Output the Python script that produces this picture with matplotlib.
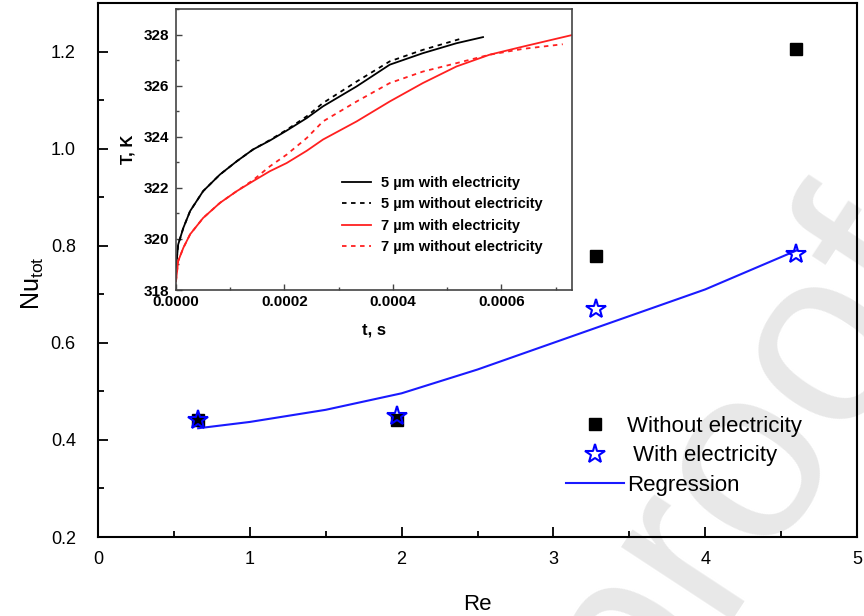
import numpy as np
import matplotlib
matplotlib.use("Agg")
import matplotlib.pyplot as plt
from matplotlib.ticker import MultipleLocator, FormatStrFormatter

plt.rcParams['font.family'] = ['Liberation Sans', 'DejaVu Sans']
plt.rcParams['mathtext.default'] = 'regular'

# main plot data
re_vals = [0.66, 1.97, 3.28, 4.60]
nu_without = [0.44, 0.44, 0.778, 1.206]
nu_with = [0.44, 0.449, 0.669, 0.782]
re_fit = [0.66, 1.0, 1.5, 2.0, 2.5, 3.0, 3.5, 4.0, 4.6]
nu_fit = [0.424, 0.437, 0.462, 0.496, 0.545, 0.600, 0.655, 0.710, 0.790]

# inset data (temperature vs time)
t_5_with = [0, 4e-6, 1.35e-5, 2.6e-5, 5.0e-5, 8.1e-5, 1.12e-4, 1.42e-4, 1.73e-4, 2.04e-4,
            2.41e-4, 2.71e-4, 3.33e-4, 3.94e-4, 4.55e-4, 5.17e-4, 5.66e-4]
T_5_with = [318.87, 319.78, 320.43, 321.09, 321.87, 322.52, 323.04, 323.5, 323.85, 324.24,
            324.73, 325.19, 325.97, 326.82, 327.27, 327.66, 327.9]
t_5_without = [0, 4e-6, 1.35e-5, 2.6e-5, 5.0e-5, 8.1e-5, 1.12e-4, 1.42e-4, 1.73e-4, 2.04e-4,
               2.41e-4, 2.71e-4, 3.33e-4, 3.94e-4, 4.55e-4, 5.29e-4]
T_5_without = [318.87, 319.78, 320.43, 321.09, 321.87, 322.52, 323.04, 323.5, 323.87, 324.27,
               324.8, 325.32, 326.16, 326.95, 327.4, 327.86]
t_7_with = [0, 4e-6, 1.35e-5, 2.6e-5, 5.0e-5, 8.1e-5, 1.12e-4, 1.42e-4, 1.73e-4, 2.04e-4,
            2.41e-4, 2.71e-4, 3.33e-4, 3.94e-4, 4.55e-4, 5.17e-4, 5.78e-4, 6.40e-4, 7.3e-4]
T_7_with = [318.35, 319.13, 319.65, 320.18, 320.82, 321.41, 321.87, 322.26, 322.65, 322.97,
            323.45, 323.89, 324.6, 325.38, 326.1, 326.75, 327.21, 327.53, 327.98]
t_7_without = [0, 4e-6, 1.35e-5, 2.6e-5, 5.0e-5, 8.1e-5, 1.12e-4, 1.42e-4, 1.73e-4, 2.04e-4,
               2.41e-4, 2.71e-4, 3.33e-4, 3.94e-4, 4.55e-4, 5.17e-4, 5.78e-4, 6.40e-4, 7.13e-4]
T_7_without = [318.35, 319.13, 319.65, 320.18, 320.82, 321.41, 321.87, 322.3, 322.84, 323.3,
               323.95, 324.6, 325.38, 326.1, 326.55, 326.88, 327.21, 327.44, 327.62]

fig = plt.figure(figsize=(8.64, 6.16), dpi=100)

# faint watermark behind everything
fig.text(960 / 864, 343 / 616, "Journal Pre-proof", fontsize=180, color='#e8e8e8',
         rotation=56.7, rotation_mode='anchor', ha='right', va='baseline', zorder=-1)

ax = fig.add_axes([98 / 864, 79 / 616, 759 / 864, 534 / 616])
ax.patch.set_alpha(0)
ax.plot(re_vals, nu_without, 's', color='black', markersize=8, label='Without electricity', zorder=3)
ax.plot(re_vals, nu_with, '*', color='blue', markersize=15, fillstyle='none',
        markeredgewidth=1.5, label=' With electricity', zorder=4)
ax.plot(re_fit, nu_fit, '-', color='#1a1aff', linewidth=1.5, label='Regression', zorder=2)

ax.set_xlim(0, 5)
ax.set_ylim(0.2, 1.3)
ax.xaxis.set_major_locator(MultipleLocator(1))
ax.xaxis.set_minor_locator(MultipleLocator(0.5))
ax.yaxis.set_major_locator(MultipleLocator(0.2))
ax.yaxis.set_minor_locator(MultipleLocator(0.1))
ax.yaxis.set_major_formatter(FormatStrFormatter('%.1f'))
ax.tick_params(which='both', direction='in', labelsize=13, width=1.3)
ax.tick_params(which='major', length=7)
ax.tick_params(which='minor', length=4)
ax.tick_params(axis='x', pad=10)
ax.tick_params(axis='y', pad=16)
for s in ax.spines.values():
    s.set_linewidth(1.5)
ax.set_xlabel('Re', fontsize=16, labelpad=19)
ax.set_ylabel('Nu$_{tot}$', fontsize=18)
ax.yaxis.set_label_coords(-0.069, 0.476)

ax.legend(loc='upper left', bbox_to_anchor=(566 / 864, 200 / 616),
          bbox_transform=fig.transFigure, frameon=False,
          fontsize=16, borderpad=0, borderaxespad=0, handlelength=2.6,
          handletextpad=0.15, labelspacing=0.38)

# inset
axi = fig.add_axes([176 / 864, 326 / 616, 396 / 864, 281 / 616])
axi.plot(t_5_with, T_5_with, '-', color='black', linewidth=1.3, label='5 µm with electricity')
axi.plot(t_5_without, T_5_without, '--', color='black', linewidth=1.3, dashes=(2.5, 2.5),
         label='5 µm without electricity')
axi.plot(t_7_with, T_7_with, '-', color='#ff2020', linewidth=1.3, label='7 µm with electricity')
axi.plot(t_7_without, T_7_without, '--', color='#ff2020', linewidth=1.3, dashes=(2.5, 2.5),
         label='7 µm without electricity')
axi.set_xlim(0, 0.00073)
axi.set_ylim(318, 329)
axi.xaxis.set_major_locator(MultipleLocator(0.0002))
axi.xaxis.set_minor_locator(MultipleLocator(0.0001))
axi.xaxis.set_major_formatter(FormatStrFormatter('%.4f'))
axi.yaxis.set_major_locator(MultipleLocator(2))
axi.yaxis.set_minor_locator(MultipleLocator(1))
axi.tick_params(which='both', direction='in', labelsize=11, width=1.0, color='#444444')
axi.tick_params(which='major', length=4)
axi.tick_params(which='minor', length=2.5)
axi.tick_params(axis='y', pad=5)
for lab in axi.get_xticklabels() + axi.get_yticklabels():
    lab.set_fontweight('bold')
for s in axi.spines.values():
    s.set_linewidth(1.2)
    s.set_color('#444444')
axi.set_xlabel('t, s', fontsize=12, fontweight='bold', labelpad=10)
axi.set_ylabel('T, K', fontsize=12, fontweight='bold', labelpad=6)
axi.legend(loc='upper left', bbox_to_anchor=(0.419, 0.405), frameon=False,
           prop={'size': 10.5, 'weight': 'bold'}, borderpad=0, borderaxespad=0,
           handlelength=2.0, handletextpad=0.7, labelspacing=0.5)

fig.savefig('out.png', dpi=100)
